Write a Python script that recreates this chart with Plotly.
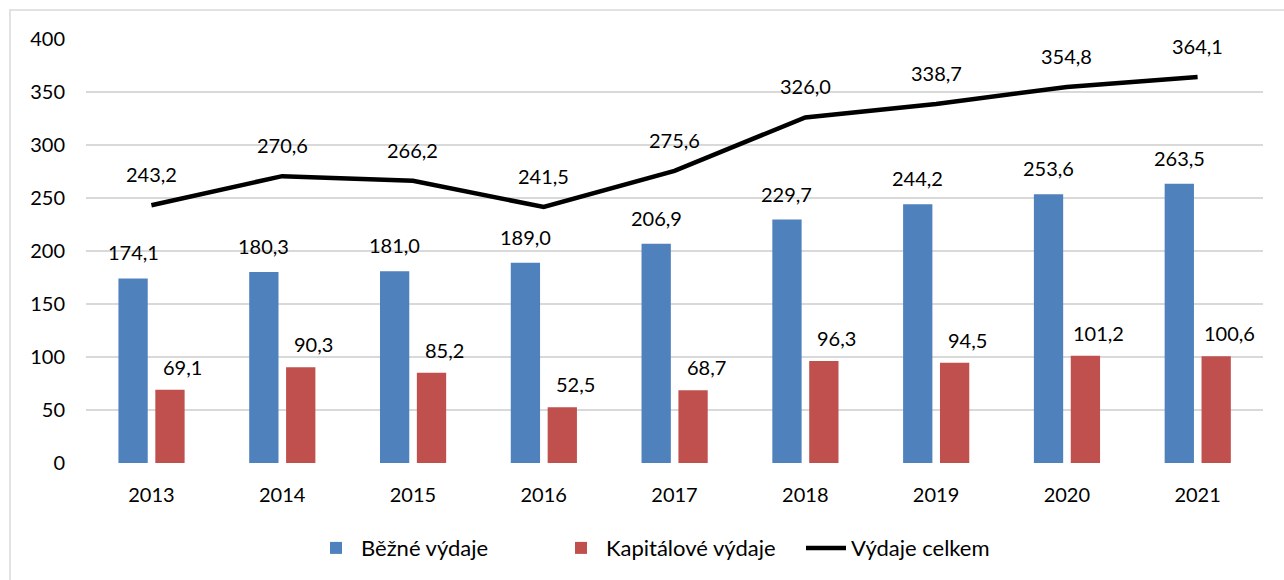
import plotly.graph_objects as go

years = [2013, 2014, 2015, 2016, 2017, 2018, 2019, 2020, 2021]
bezne = [174.1, 180.3, 181.0, 189.0, 206.9, 229.7, 244.2, 253.6, 263.5]
kapitalove = [69.1, 90.3, 85.2, 52.5, 68.7, 96.3, 94.5, 101.2, 100.6]
celkem = [243.2, 270.6, 266.2, 241.5, 275.6, 326.0, 338.7, 354.8, 364.1]
y_ticks = [0, 50, 100, 150, 200, 250, 300, 350, 400]

BLUE = "#4f81bd"
RED = "#c0504d"
FONT = "Lato"
FS = 20

def fmt(v):
    return f"{v:.1f}".replace(".", ",")

fig = go.Figure()
fig.add_trace(go.Bar(x=years, y=bezne, name="Běžné výdaje", marker_color=BLUE,
                     width=0.224, offset=-0.252, marker_line_width=0))
fig.add_trace(go.Bar(x=years, y=kapitalove, name="Kapitálové výdaje", marker_color=RED,
                     width=0.224, offset=0.03, marker_line_width=0))
fig.add_trace(go.Scatter(x=years, y=celkem, name="Výdaje celkem", mode="lines",
                         line=dict(color="black", width=4.5)))

annotations = []
for x, v in zip(years, bezne):
    annotations.append(dict(x=x - 0.14, y=v, text=fmt(v), showarrow=False,
                            yshift=26, font=dict(family=FONT, size=FS, color="black")))
for x, v in zip(years, kapitalove):
    annotations.append(dict(x=x + 0.142, y=v, text=fmt(v), showarrow=False,
                            xshift=13, yshift=23, font=dict(family=FONT, size=FS, color="black")))
for x, v in zip(years, celkem):
    annotations.append(dict(x=x, y=v, text=fmt(v), showarrow=False,
                            yshift=31, font=dict(family=FONT, size=FS, color="black")))

fig.update_layout(
    width=1284, height=580,
    margin=dict(l=86, r=21, t=39, b=117, autoexpand=False),
    paper_bgcolor="white", plot_bgcolor="white",
    font=dict(family=FONT, size=FS, color="black"),
    barmode="overlay",
    showlegend=True,
    legend=dict(orientation="h", x=(311 - 86) / 1177, xanchor="left",
                yref="container", y=0.055, yanchor="middle",
                font=dict(family=FONT, size=22, color="black"), itemwidth=40,
                entrywidth=190, entrywidthmode="pixels",
                traceorder="normal"),
    annotations=annotations,
    shapes=[dict(type="rect", xref="paper", yref="paper",
                 x0=-0.0646, x1=1.03, y0=-0.3, y1=1.0684,
                 line=dict(color="#d9d9d9", width=1.5), fillcolor="rgba(0,0,0,0)",
                 layer="below")],
)
fig.update_xaxes(range=[2012.5, 2021.5], tickvals=years, ticktext=[str(y) for y in years],
                 showgrid=False, zeroline=False, showline=False, ticks="",
                 automargin=False,
                 ticklabelstandoff=18, tickfont=dict(family=FONT, size=FS))
fig.update_yaxes(range=[0, 400], tickvals=y_ticks, showgrid=True, gridcolor="#d9d9d9",
                 gridwidth=1.5, zeroline=False, showline=False, ticks="",
                 automargin=False,
                 ticklabelstandoff=20, tickfont=dict(family=FONT, size=FS))

fig.write_html("out.html", config={"displayModeBar": False},
               post_script="document.body.style.margin='0';document.body.style.overflow='hidden';")
